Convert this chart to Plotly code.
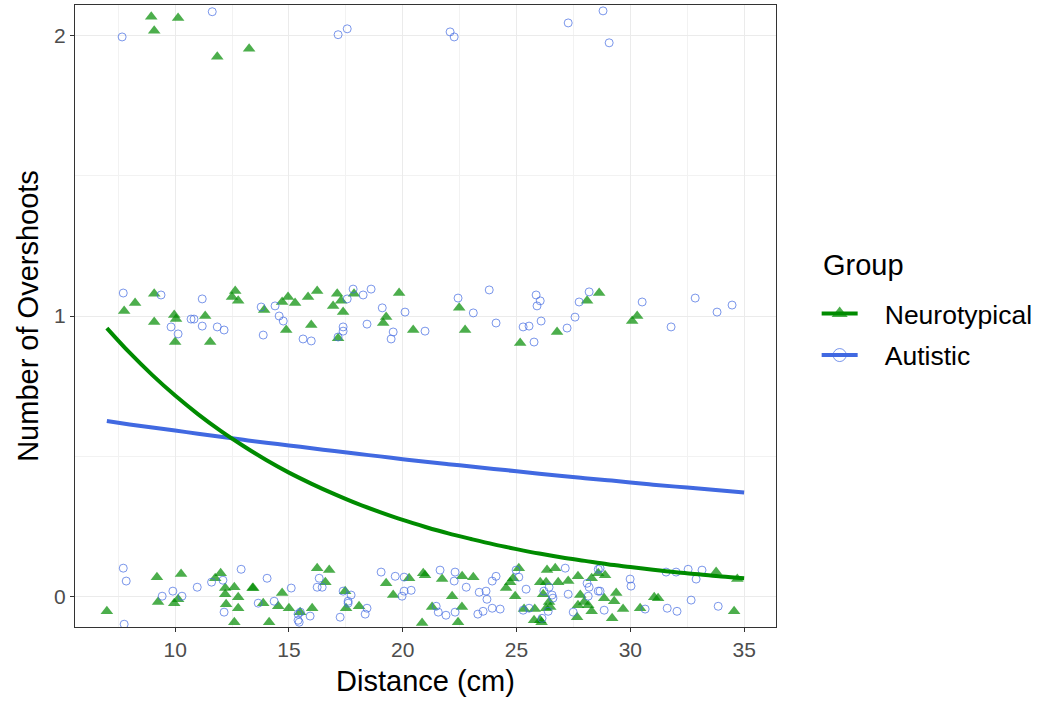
import plotly.graph_objects as go

# Jittered observations (distance in cm, overshoot count with vertical jitter)
nt_x = [7.0, 9.2, 10.26, 9.25, 9.96, 10.13, 11.76, 12.0, 12.2, 12.2, 12.6, 12.77, 12.24, 12.77, 12.6, 13.4,
        13.43, 13.87, 14.7, 14.53, 15.0, 14.13, 16.24, 16.77, 16.6, 15.49, 16.02, 17.47, 17.51, 18.08, 19.27,
        19.58, 20.28, 20.9, 20.85, 20.98, 21.73, 22.61, 23.1, 22.17, 21.29, 22.6, 22.43, 24.54, 24.72, 24.85,
        25.1, 24.94, 25.33, 25.8, 25.77, 26.04, 26.1, 26.34, 26.04, 26.3, 26.17, 26.43, 26.3, 26.48, 26.7,
        26.83, 27.27, 27.7, 27.8, 27.7, 27.97, 28.15, 28.3, 28.3, 28.59, 27.66, 28.89, 29.38, 28.85, 29.29,
        29.68, 29.2, 30.43, 31.05, 31.22, 33.77, 34.7, 34.56,
        7.76, 8.24, 9.08, 9.08, 9.96, 10.04, 10.0, 11.32, 11.54, 12.64, 12.5, 12.77,
        13.91, 14.7, 14.96, 15.27, 15.84, 16.24, 14.88, 15.98, 17.12, 17.29, 16.94, 17.38, 17.86, 17.16,
        19.27, 19.14, 19.84, 20.46, 22.48, 22.74, 25.16, 26.78, 28.1, 28.63, 30.08, 30.3,
        8.95, 9.08, 10.13, 11.85, 13.25]
nt_y = [-0.054, 0.068, 0.079, -0.021, -0.025, -0.011, 0.064, 0.082, 0.029, 0.007, 0.032, -0.004, -0.029,
        -0.043, -0.093, 0.029, 0.029, -0.025, 0.011, -0.036, -0.043, -0.093, 0.1, 0.093, 0.05, -0.057,
        -0.043, 0.018, -0.043, -0.036, 0.046, 0.004, 0.064, 0.082, -0.096, 0.075, 0.061, 0.071, 0.068, 0.0,
        -0.039, -0.039, -0.093, 0.029, 0.05, 0.064, 0.1, 0.0, -0.046, -0.046, -0.086, -0.086, -0.093, 0.093,
        0.05, 0.05, 0.007, -0.021, -0.043, -0.039, 0.1, 0.05, 0.054, 0.071, 0.004, -0.032, -0.021, -0.032,
        -0.054, 0.064, 0.082, -0.075, 0.075, 0.011, -0.007, -0.018, -0.046, -0.079, -0.043, -0.004, -0.007,
        0.086, 0.061, -0.054,
        1.018, 1.046, 1.079, 0.979, 1.004, 0.989, 0.907, 1.0, 0.907, 1.089, 1.068, 1.054,
        1.021, 1.05, 1.068, 1.046, 1.068, 1.089, 0.95, 0.968, 1.079, 1.054, 1.036, 1.014, 1.079, 0.921,
        0.996, 0.975, 1.082, 0.95, 1.029, 0.95, 0.904, 0.943, 1.054, 1.082, 0.982, 1.0,
        2.068, 2.018, 2.064, 1.925, 1.954]

au_x = [7.72, 7.85, 9.43, 9.9, 10.3, 10.97, 11.6, 12.1, 12.9, 12.15, 7.76,
        14.04, 13.65, 14.35, 15.1, 16.33, 16.24, 16.46, 15.4, 15.5, 15.4, 15.93, 15.45, 17.38, 17.73, 17.6,
        17.6, 18.43, 18.35, 17.25, 19.05, 19.67, 20.06, 20.06, 20.37, 19.97,
        21.64, 22.3, 22.26, 22.79, 23.36, 23.66, 23.7, 23.93, 24.1, 21.47, 21.56, 21.9, 22.3, 23.3, 23.53,
        23.93, 24.28, 24.98, 25.1, 25.42, 25.29, 25.55, 26.12, 26.2, 26.43, 26.56, 26.6, 26.39, 27.14, 27.27,
        27.49, 28.1, 28.19, 28.15, 28.59, 28.59,
        28.67, 29.99, 30.03, 28.67, 28.85, 30.65, 31.57, 32.01, 32.54, 33.15, 32.89, 31.62, 32.05, 32.67, 33.86,
        7.72, 9.38, 11.19, 9.82, 10.13, 10.7, 10.83, 11.19, 11.85, 12.15,
        13.78, 14.39, 14.57, 14.75, 13.87, 15.62, 15.98, 17.38, 17.38, 17.16, 17.56, 17.82, 18.26, 18.61,
        18.43, 19.1, 19.58, 19.49, 20.1, 20.98,
        22.43, 23.8, 23.1, 24.1, 25.86, 26.04, 25.9, 26.08, 25.29, 25.55, 25.77, 27.22, 27.57, 27.75, 28.19,
        30.52, 31.79, 32.85, 33.81, 34.47,
        7.67, 11.63, 17.16, 17.56, 22.08, 22.26, 27.27, 28.8, 29.07]
au_y = [0.1, 0.054, 0.0, 0.018, 0.0, 0.032, 0.05, 0.057, 0.096, -0.057, -0.1,
        0.064, -0.025, -0.018, 0.029, 0.064, 0.032, 0.032, -0.064, -0.057, -0.086, -0.071, -0.093, 0.018,
        0.004, -0.018, -0.025, -0.043, -0.064, -0.075, 0.086, 0.071, 0.068, 0.018, 0.021, 0.0,
        0.093, 0.086, 0.054, 0.032, 0.014, 0.018, -0.011, 0.054, 0.071, -0.036, -0.057, -0.068, -0.057,
        -0.064, -0.054, -0.043, -0.046, 0.093, 0.068, 0.025, -0.05, -0.043, -0.079, 0.018, 0.032, 0.004,
        -0.007, -0.054, 0.1, 0.007, -0.057, 0.046, 0.032, 0.0, 0.018, 0.096,
        0.1, 0.061, 0.036, 0.018, -0.05, -0.046, 0.086, 0.086, 0.096, 0.093, 0.061, -0.043, -0.054, -0.014,
        -0.036,
        1.082, 1.075, 1.061, 0.961, 0.936, 0.989, 0.989, 0.964, 0.961, 0.95,
        1.032, 1.036, 1.0, 0.982, 0.932, 0.918, 0.911, 0.961, 0.946, 0.925, 1.061, 1.096, 1.075, 1.096,
        0.971, 1.029, 0.943, 0.918, 1.014, 0.946,
        1.064, 1.093, 1.011, 0.975, 1.075, 1.054, 1.036, 0.982, 0.961, 0.964, 0.907, 0.957, 0.996, 1.05,
        1.086,
        1.05, 0.961, 1.064, 1.014, 1.039,
        1.996, 2.086, 2.004, 2.025, 2.014, 1.996, 2.046, 2.089, 1.975]

# Fitted curves (predicted overshoots by distance)
fit_x = [7, 8, 9, 10, 11, 12, 13, 14, 15, 16, 17, 18, 19, 20, 21, 22, 23, 24, 25, 26, 27, 28, 29, 30,
         31, 32, 33, 34, 35]
nt_fit = [0.957, 0.869, 0.789, 0.716, 0.650, 0.590, 0.536, 0.486, 0.441, 0.401, 0.364, 0.330, 0.300,
          0.272, 0.247, 0.224, 0.204, 0.185, 0.168, 0.152, 0.138, 0.126, 0.114, 0.104, 0.094, 0.085,
          0.078, 0.070, 0.064]
au_fit = [0.625, 0.613, 0.602, 0.591, 0.580, 0.569, 0.558, 0.548, 0.538, 0.528, 0.518, 0.508, 0.499,
          0.489, 0.480, 0.471, 0.463, 0.454, 0.446, 0.437, 0.429, 0.421, 0.414, 0.406, 0.398, 0.391,
          0.384, 0.377, 0.370]

groups = ["Neurotypical", "Autistic"]
x_ticks = [10, 15, 20, 25, 30, 35]
y_ticks = [0, 1, 2]

GREEN = "#008B00"
BLUE = "#4169E1"
GREEN_A = "rgba(0,139,0,0.7)"
BLUE_A = "rgba(65,105,225,0.7)"
FONT = "Liberation Sans, Arial, sans-serif"
PAD = "\u00a0\u00a0\u00a0"

fig = go.Figure()

fig.add_trace(go.Scatter(x=nt_x, y=nt_y, mode="markers", showlegend=False, hoverinfo="skip",
                         marker=dict(symbol="triangle-up", size=11, color=GREEN_A, line=dict(width=0))))
fig.add_trace(go.Scatter(x=au_x, y=au_y, mode="markers", showlegend=False, hoverinfo="skip",
                         marker=dict(symbol="circle-open", size=8, color=BLUE_A, line=dict(width=1))))

fig.add_trace(go.Scatter(x=fit_x, y=au_fit, mode="lines", showlegend=False,
                         line=dict(color=BLUE, width=4, shape="spline")))
fig.add_trace(go.Scatter(x=fit_x, y=nt_fit, mode="lines", showlegend=False,
                         line=dict(color=GREEN, width=4, shape="spline")))

# Legend keys: line with the group's point symbol
fig.add_trace(go.Scatter(x=[None], y=[None], mode="lines+markers", name=PAD + groups[0],
                         legendgroup="nt",
                         line=dict(color=GREEN, width=4),
                         marker=dict(symbol="triangle-up", size=14, color=GREEN_A)))
fig.add_trace(go.Scatter(x=[None], y=[None], mode="lines+markers", name=PAD + groups[1],
                         legendgroup="au",
                         line=dict(color=BLUE, width=4),
                         marker=dict(symbol="circle-open", size=13, color=BLUE_A, line=dict(width=1))))

axis_common = dict(
    showline=True, linecolor="#333333", linewidth=1, mirror=True,
    ticks="outside", ticklen=4, tickcolor="#333333", tickwidth=1,
    showgrid=True, gridcolor="#EBEBEB", gridwidth=1.3,
    zeroline=False,
    tickfont=dict(family=FONT, size=21, color="#4D4D4D"),
)

fig.update_xaxes(
    range=[5.6, 36.4], tickmode="array", tickvals=x_ticks,
    minor=dict(showgrid=True, gridcolor="#F2F2F2", gridwidth=0.7, tickmode="array",
               tickvals=[7.5, 12.5, 17.5, 22.5, 27.5, 32.5]),
    title=dict(text="Distance (cm)", font=dict(family=FONT, size=29, color="black"), standoff=10),
    **axis_common)
fig.update_yaxes(
    range=[-0.11, 2.11], tickmode="array", tickvals=y_ticks,
    minor=dict(showgrid=True, gridcolor="#F2F2F2", gridwidth=0.7, tickmode="array",
               tickvals=[0.5, 1.5]),
    title=dict(text="Number of Overshoots", font=dict(family=FONT, size=29, color="black"), standoff=6),
    **axis_common)

# Legend heading
fig.add_annotation(text="Group", xref="paper", yref="paper", x=1.0642, y=0.582,
                   xanchor="left", yanchor="middle", showarrow=False,
                   font=dict(family=FONT, size=29, color="black"))

fig.update_layout(
    width=1043, height=704,
    margin=dict(l=75, r=267, t=5, b=77),
    plot_bgcolor="white", paper_bgcolor="white",
    font=dict(family=FONT, color="black"),
    legend=dict(
        font=dict(family=FONT, size=26.5, color="black"),
        x=1.058, y=0.542, xanchor="left", yanchor="top",
        bgcolor="rgba(0,0,0,0)", itemwidth=36, tracegroupgap=4,
    ),
)

fig.write_html("out.html")
